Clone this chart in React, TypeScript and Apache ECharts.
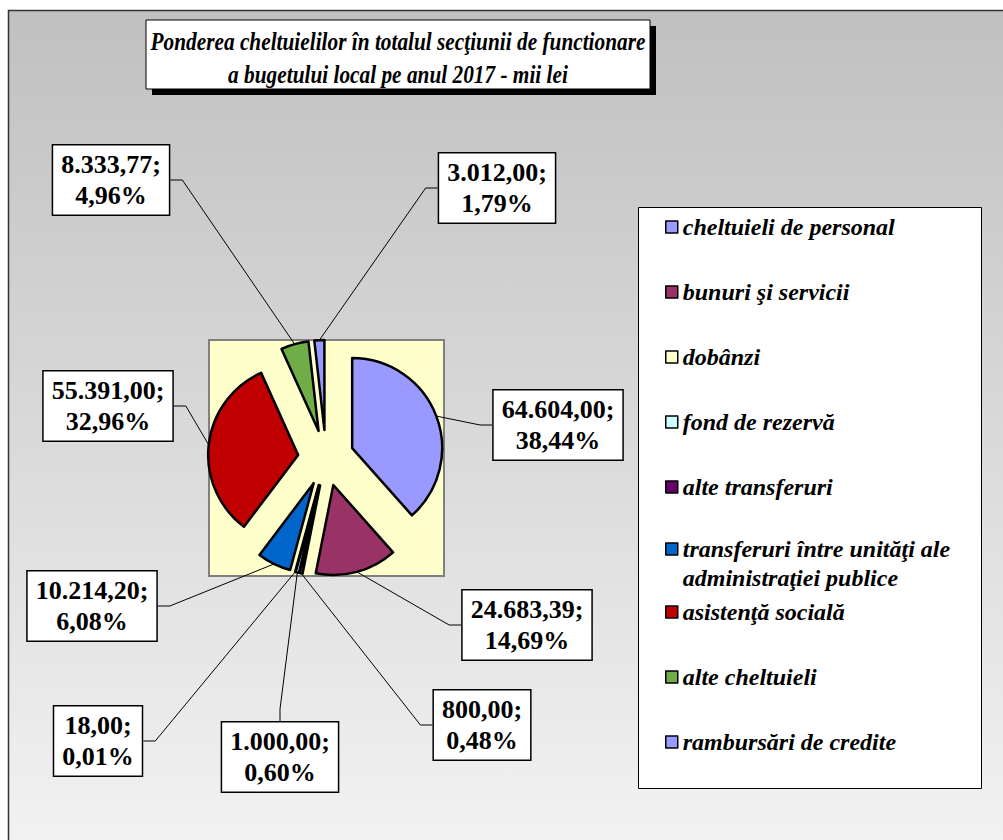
import React, { useEffect, useRef } from 'react';
import * as echarts from 'echarts';

// ---- data ----
const categories = [
  'cheltuieli de personal',
  'bunuri şi servicii',
  'dobânzi',
  'fond de rezervă',
  'alte transferuri',
  'transferuri între unităţi ale administraţiei publice',
  'asistenţă socială',
  'alte cheltuieli',
  'rambursări de credite',
];
const values = [64604.0, 24683.39, 800.0, 1000.0, 18.0, 10214.2, 55391.0, 8333.77, 3012.0];
const colors = ['#9999FF', '#993366', '#FFFFCC', '#CCFFFF', '#660066', '#0066CC', '#C00000', '#70AD47', '#9999FF'];
const titleLines = [
  'Ponderea cheltuielilor în totalul secţiunii de functionare',
  'a bugetului local pe anul 2017 - mii lei',
];
const wrappedLegend = 'transferuri între unităţi ale\nadministraţiei publice';

// ---- layout (label box centres, px) ----
const labelCenters: [number, number][] = [
  [558, 425],
  [527, 625],
  [482, 725],
  [280, 757],
  [98, 741],
  [92, 606],
  [108, 406],
  [111, 180],
  [497, 188],
];

const serif = '"Liberation Serif", "Times New Roman", serif';
const PIE_R = 90;
const EXPLODE = 28;

export default function App() {
  const ref = useRef<HTMLDivElement>(null);
  useEffect(() => {
    const chart = echarts.init(ref.current!, null, { renderer: 'svg' });
    const total = values.reduce((a, b) => a + b, 0);
    const fmt = (v: number) => {
      const [i, d] = v.toFixed(2).split('.');
      return i.replace(/\B(?=(\d{3})+(?!\d))/g, '.') + ',' + d;
    };
    const pct = (v: number) => ((v / total) * 100).toFixed(2).replace('.', ',');

    const legendBase: any = {
      orient: 'vertical',
      left: 665,
      padding: 0,
      itemWidth: 12,
      itemHeight: 12,
      itemGap: 36,
      selectedMode: false,
      icon: 'rect',
      itemStyle: { borderColor: '#000', borderWidth: 1.5 },
      textStyle: {
        fontFamily: serif,
        fontSize: 24,
        fontWeight: 'bold',
        fontStyle: 'italic',
        color: '#000',
        lineHeight: 29,
      },
    };

    const pieData = categories.map((name, i) => ({ name, value: values[i] }));

    const option: any = {
      animation: false,
      graphic: [
        {
          type: 'rect',
          z: -10,
          silent: true,
          shape: { x: 8.5, y: 10.5, width: 1100, height: 900 },
          style: {
            fill: new echarts.graphic.LinearGradient(0, 0, 0, 1, [
              { offset: 0, color: '#C0C0C0' },
              { offset: 1, color: '#F6F6F6' },
            ]),
            stroke: '#333',
            lineWidth: 1.5,
          },
        },
        {
          type: 'rect',
          z: -5,
          silent: true,
          shape: { x: 152, y: 26, width: 504, height: 69 },
          style: { fill: '#000' },
        },
        {
          type: 'rect',
          z: -4,
          silent: true,
          shape: { x: 146, y: 20, width: 504, height: 69 },
          style: { fill: '#fff', stroke: '#000', lineWidth: 1 },
        },
        {
          type: 'text',
          z: -3,
          silent: true,
          x: 398,
          y: 57.5,
          scaleX: 0.82,
          style: {
            text: titleLines.join('\n'),
            fontFamily: serif,
            fontSize: 26,
            fontWeight: 'bold',
            fontStyle: 'italic',
            fill: '#000',
            lineHeight: 33,
            align: 'center',
            verticalAlign: 'middle',
          },
        },
        {
          type: 'rect',
          z: -5,
          silent: true,
          shape: { x: 209, y: 340, width: 235, height: 236 },
          style: { fill: '#FFFFCC', stroke: '#808080', lineWidth: 2 },
        },
        {
          type: 'rect',
          z: -5,
          silent: true,
          shape: { x: 638.5, y: 207.5, width: 343, height: 581 },
          style: { fill: '#fff', stroke: '#000', lineWidth: 1 },
        },
      ],
      legend: [
        { ...legendBase, top: 212.5, data: categories.slice(0, 5) },
        {
          ...legendBase,
          top: 505.5,
          data: [categories[5]],
          formatter: () => '\n' + wrappedLegend,
        },
        { ...legendBase, top: 597.5, data: categories.slice(6) },
      ],
      series: [
        {
          type: 'pie',
          name: 'slices',
          center: [326, 458],
          radius: PIE_R,
          startAngle: 90,
          clockwise: true,
          selectedMode: 'multiple',
          selectedOffset: EXPLODE,
          emphasis: { disabled: true },
          data: pieData.map((d, i) => ({
            ...d,
            selected: true,
            itemStyle: { color: colors[i] },
          })),
          itemStyle: { borderColor: '#000', borderWidth: 2.5 },
          label: { show: false },
          labelLine: { show: false },
        },
        {
          type: 'pie',
          name: 'labels',
          center: [326, 458],
          radius: PIE_R + EXPLODE,
          startAngle: 90,
          clockwise: true,
          silent: true,
          selectedMode: false,
          avoidLabelOverlap: false,
          emphasis: { disabled: true },
          data: pieData,
          itemStyle: { color: 'rgba(0,0,0,0)', borderWidth: 0 },
          label: {
            show: true,
            position: 'outside',
            formatter: (p: any) => `${fmt(p.value)};\n${pct(p.value)}%`,
            fontFamily: serif,
            fontSize: 26,
            fontWeight: 'bold',
            color: '#000',
            lineHeight: 31,
            align: 'center',
            backgroundColor: '#fff',
            borderColor: '#000',
            borderWidth: 1.5,
            padding: [3, 8, 4, 8],
          },
          labelLine: {
            show: true,
            length: 6,
            length2: 12,
            smooth: false,
            lineStyle: { color: '#000', width: 1 },
          },
          labelLayout: (p: any) => ({
            x: labelCenters[p.dataIndex][0],
            y: labelCenters[p.dataIndex][1],
            align: 'center',
            verticalAlign: 'middle',
          }),
        },
      ],
    };
    chart.setOption(option);
    return () => chart.dispose();
  }, []);
  return (
    <div
      ref={ref}
      style={{ position: 'absolute', left: 0, top: 0, width: 1003, height: 840 }}
    />
  );
}
